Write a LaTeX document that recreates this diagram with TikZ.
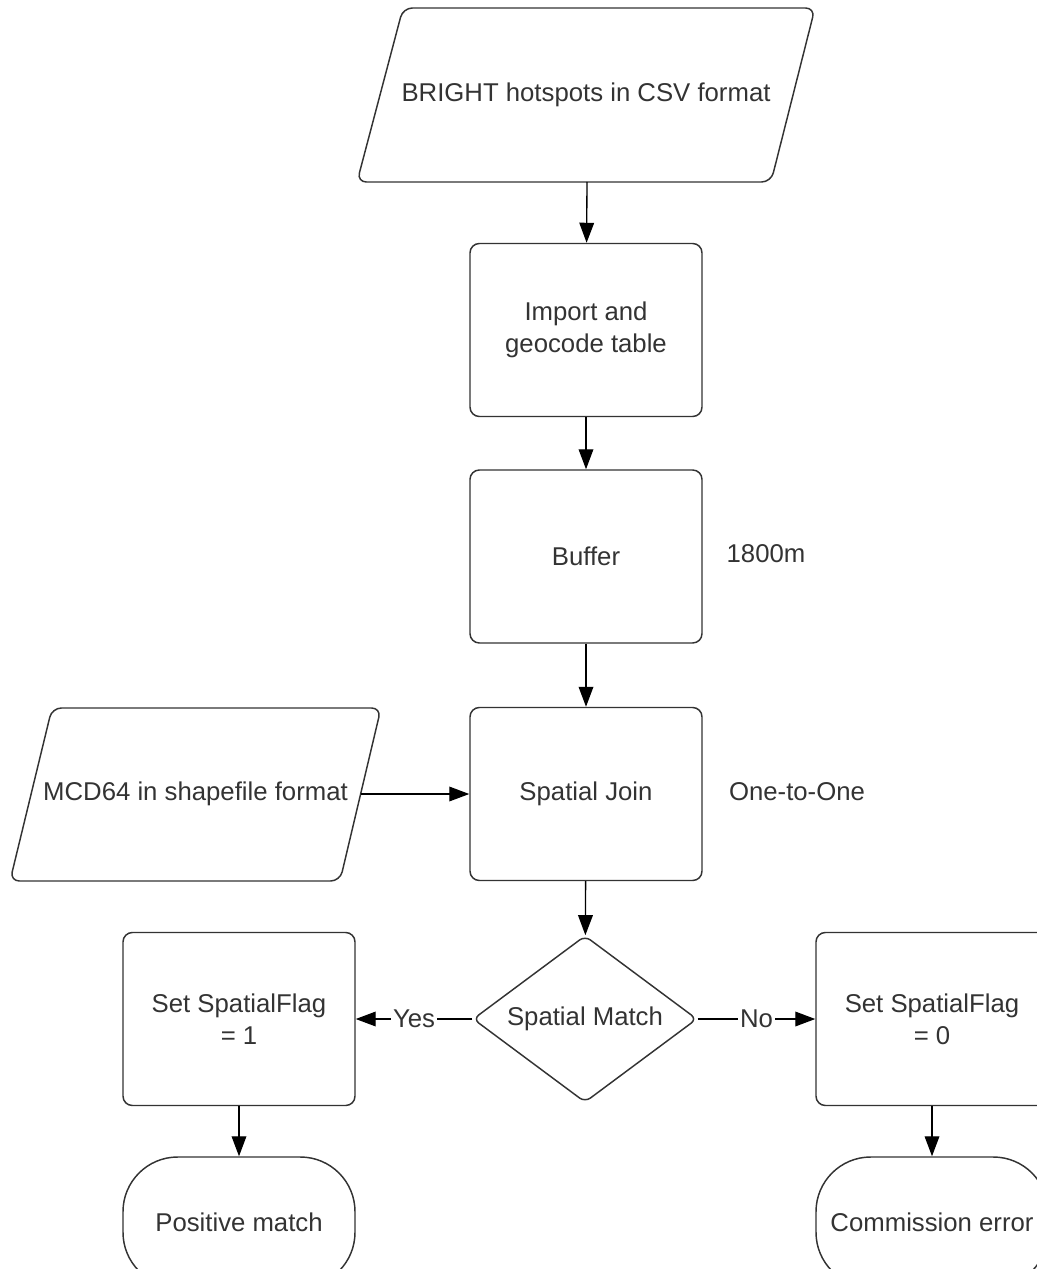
\documentclass[tikz,border=0pt]{standalone}
\usepackage{fontspec}
\setmainfont{Liberation Sans}
\usepackage{tikz}
\usetikzlibrary{shapes.geometric,arrows.meta}
\definecolor{lineclr}{RGB}{51,51,51}
\definecolor{txtclr}{RGB}{51,51,51}
\tikzset{
  basefont/.style={font=\fontsize{19.3}{24}\selectfont, text=txtclr},
  procbox/.style={basefont, draw=lineclr, line width=1.1pt, rounded corners=7pt, minimum width=174pt, minimum height=129.75pt, align=center, inner sep=0pt},
  ioshape/.style={draw=lineclr, line width=1.1pt, rounded corners=7pt},
  decbox/.style={basefont, diamond, aspect=1.34, draw=lineclr, line width=1.1pt, rounded corners=5pt, minimum width=168pt, minimum height=125pt, inner sep=0pt},
  termbox/.style={basefont, draw=lineclr, line width=1.1pt, rounded corners=41pt, minimum width=174pt, minimum height=97.5pt, inner sep=0pt},
  flowarrow/.style={draw=black, line width=1pt, -{Triangle[length=15pt,width=11pt]}},
  edgelbl/.style={basefont, fill=white, inner sep=1.5pt},
}
\begin{document}
\begin{tikzpicture}[x=0.75pt,y=0.75pt,yscale=-1,xscale=1]
\useasboundingbox (0,0) rectangle (1037,1269);
%Shape: Parallelogram
\draw [ioshape] (403,8) -- (815,8) -- (771,182) -- (357,182) -- cycle ;
\node [basefont] (csv) at (586,95) {BRIGHT hotspots in CSV format};
\coordinate (csvbase) at (587,182);
%Shape: Parallelogram
\draw [ioshape] (52,708) -- (381,708) -- (340,881) -- (10,881) -- cycle ;
\node [basefont] (mcd) at (195.5,794) {MCD64 in shapefile format};
\coordinate (mcdedge) at (360.5,794);
% Process boxes
\node [procbox] (import) at (586,330) {Import and\\geocode table};
\node [procbox] (buffer) at (586,556.5) {Buffer};
\node [procbox] (join) at (586,794) {Spatial Join};
% Text Node
\node [basefont] (bufdist) at (766,554) {1800m};
% Text Node
\node [basefont] (joinkind) at (797,792) {One-to-One};
% Decision
\node [decbox] (match) at (585,1019) {Spatial Match};
\node [procbox] (setone) at (239,1019) {Set SpatialFlag\\= 1};
\node [procbox] (setzero) at (932,1019) {Set SpatialFlag\\= 0};
% Terminals
\node [termbox] (posmatch) at (239,1222) {Positive match};
\node [termbox] (commerr) at (932,1222) {Commission error};
% Connectors
\draw [flowarrow] (csvbase) -- (import);
\draw [flowarrow] (import) -- (buffer);
\draw [flowarrow] (buffer) -- (join);
\draw [flowarrow] (mcdedge) -- (join);
\draw [flowarrow] (join) -- (match);
\draw [flowarrow] (match) -- node [edgelbl] {Yes} (setone);
\draw [flowarrow] (match) -- node [edgelbl] {No} (setzero);
\draw [flowarrow] (setone) -- (posmatch);
\draw [flowarrow] (setzero) -- (commerr);
\end{tikzpicture}
\end{document}
